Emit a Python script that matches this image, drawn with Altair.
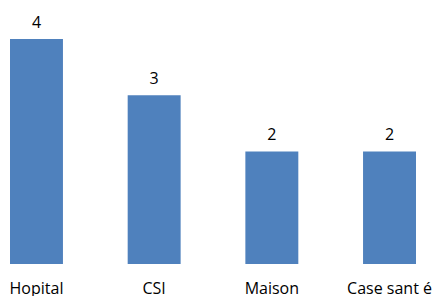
import altair as alt
import pandas as pd

categories = ["Hopital", "CSI", "Maison", "Case sant é"]
values = [4, 3, 2, 2]

df = pd.DataFrame({"cat": categories, "val": values})

FONT = "Open Sans"

x = alt.X("cat:N", sort=categories, title=None,
          scale=alt.Scale(paddingInner=0.55, paddingOuter=0.017),
          axis=alt.Axis(domain=False, ticks=False, labelAngle=0, labelFont=FONT,
                        labelFontSize=16, labelColor="#000000", labelPadding=16,
                        labelFlush=False, labelOverlap=False, labelLimit=0))
y = alt.Y("val:Q", title=None, scale=alt.Scale(domain=[0, 4.551], nice=False),
          axis=None)

bars = alt.Chart(df).mark_bar(color="#4F81BD").encode(x=x, y=y)
text = alt.Chart(df).mark_text(baseline="bottom", dy=-8, font=FONT, fontSize=16,
                               color="#000000").encode(x=x, y=y, text="val:Q")

chart = (bars + text).properties(width=410, height=256, padding=0).configure(
    background="white", view=alt.ViewConfig(stroke=None))

chart.save("out.html", embed_options={"renderer": "svg", "actions": False})
